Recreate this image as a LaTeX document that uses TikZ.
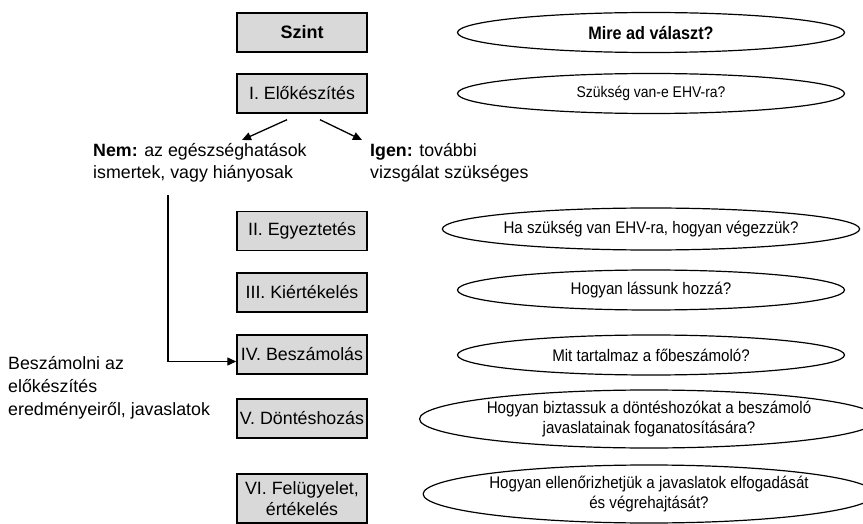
\documentclass[tikz,border=0pt]{standalone}
\usepackage{fontspec}
\setmainfont{Liberation Sans}
\newfontfamily\ellfont[FakeStretch=0.9]{Liberation Sans}
\usetikzlibrary{shapes.geometric,arrows.meta,calc}
\definecolor{boxgray}{HTML}{D9D9D9}
\tikzset{
  levelbox/.style={draw=black, line width=1.4pt, fill=boxgray, minimum width=130pt, minimum height=39pt, inner sep=2pt, align=center, font=\fontsize{17.8}{21}\selectfont},
  question/.style={draw=black, line width=1.2pt, ellipse, inner sep=0pt, minimum width=387pt, minimum height=40pt, align=center, font=\ellfont\fontsize{16.8}{20}\selectfont},
  note/.style={inner sep=0pt, anchor=base west, align=left, font=\fontsize{17.8}{22}\selectfont},
  conn/.style={line width=1.3pt, -{Triangle[length=9pt,width=8pt]}},
}
\begin{document}
\begin{tikzpicture}[x=1pt,y=-1pt]
\useasboundingbox (0,0) rectangle (863,524);
% level boxes
\node[levelbox, font=\bfseries\fontsize{18}{21}\selectfont] (b0) at (302,32.5) {Szint};
\node[levelbox] (b1) at (302,93.5) {I. Előkészítés};
\node[levelbox] (b2) at (302,231) {II. Egyeztetés};
\node[levelbox] (b3) at (302,292.5) {III. Kiértékelés};
\node[levelbox] (b4) at (302,354.5) {IV. Beszámolás};
\node[levelbox] (b5) at (302,418.5) {V. Döntéshozás};
\node[levelbox, minimum height=49pt] (b6) at (302,498.5) {VI. Felügyelet,\\értékelés};
% questions
\node[question, font=\ellfont\bfseries\fontsize{18}{20}\selectfont] (q0) at (651,32.5) {Mire ad választ?};
\node[question, font=\ellfont\fontsize{15.5}{20}\selectfont] (q1) at (651,93.5) {Szükség van-e EHV-ra?};
\node[question, minimum height=42pt] (q2) at (651,229) {Ha szükség van EHV-ra, hogyan végezzük?};
\node[question] (q3) at (651,290) {Hogyan lássunk hozzá?};
\node[question] (q4) at (651,355) {Mit tartalmaz a főbeszámoló?};
\node[question, minimum width=426pt, minimum height=58pt] (q5) at (649,419) {Hogyan biztassuk a döntéshozókat a beszámoló\\javaslatainak foganatosítására?};
\node[question, minimum width=426pt, minimum height=58pt] (q6) at (649,494) {Hogyan ellenőrizhetjük a javaslatok elfogadását\\és végrehajtását?};
% notes (anchor = baseline of last line)
\node[note] (nem) at (93,179) {\textbf{Nem:} az egészséghatások\\ismertek, vagy hiányosak};
\node[note] (igen) at (370,179) {\textbf{Igen:} további\\vizsgálat szükséges};
\node[note, font=\fontsize{17.8}{23}\selectfont] (besz) at (8,415) {Beszámolni az\\előkészítés\\eredményeiről, javaslatok};
% connectors
\coordinate (s1) at ($(b1.south)+(-15,6)$);
\coordinate (s2) at ($(b1.south)+(18,6)$);
\coordinate (t1) at (242,140);
\coordinate (t2) at (362,140);
\draw[conn] (s1) -- (t1);
\draw[conn] (s2) -- (t2);
\coordinate (nemdown) at (168,195);
\draw[conn] (nemdown) |- ($(b4.west)+(0,7)$);
\end{tikzpicture}
\end{document}
